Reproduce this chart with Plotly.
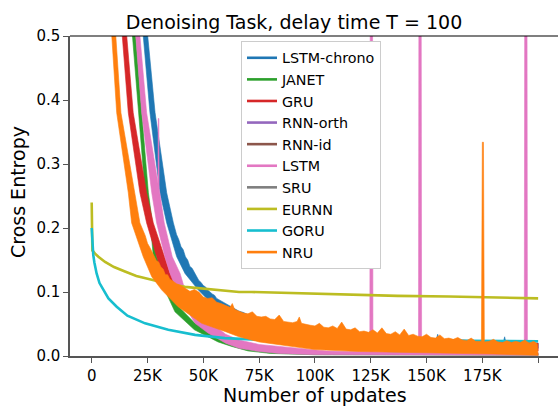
import plotly.graph_objects as go

# ---------------- data (x in thousands of updates) ----------------
series_names = ["LSTM-chrono", "JANET", "GRU", "RNN-orth", "RNN-id",
                "LSTM", "SRU", "EURNN", "GORU", "NRU"]
series_colors = ["#1f77b4", "#2ca02c", "#d62728", "#9467bd", "#8c564b",
                 "#e377c2", "#7f7f7f", "#bcbd22", "#17becf", "#ff7f0e"]

x_tick_vals = [0, 25, 50, 75, 100, 125, 150, 175, 200]
x_tick_text = ["0", "25K", "50K", "75K", "100K", "125K", "150K", "175K", "200K"]
y_tick_vals = [0.0, 0.1, 0.2, 0.3, 0.4, 0.5]
y_tick_text = ["0.0", "0.1", "0.2", "0.3", "0.4", "0.5"]

# LSTM-chrono (noisy band: upper/right edge and lower/left edge)
chrono_upper_x = [24.7, 25.1, 28.4, 33.6, 36.6, 38, 39, 40, 41, 42, 43, 44, 45, 46, 47, 48, 49, 50,
                  51, 52, 54, 55, 56, 58, 60, 61, 62.7, 64, 66, 68, 70, 71.7, 80, 90, 100, 120,
                  140, 154.5, 155, 155.5, 170, 184.5, 185, 185.5, 200]
chrono_upper_y = [0.52, 0.50, 0.38, 0.255, 0.208, 0.190, 0.182, 0.171, 0.166, 0.155, 0.150, 0.140,
                  0.137, 0.130, 0.124, 0.118, 0.115, 0.110, 0.108, 0.103, 0.097, 0.095, 0.090,
                  0.086, 0.083, 0.080, 0.077, 0.075, 0.070, 0.068, 0.064, 0.061, 0.055, 0.048,
                  0.042, 0.036, 0.031, 0.027, 0.034, 0.026, 0.024, 0.023, 0.030, 0.022, 0.020]
chrono_lower_x = [22.6, 23.1, 26.1, 30.6, 33.6, 38.1, 41.8, 47.8, 55.2, 62.7, 70, 80, 100, 150, 200]
chrono_lower_y = [0.52, 0.50, 0.38, 0.255, 0.208, 0.155, 0.129, 0.103, 0.077, 0.061, 0.045,
                  0.037, 0.028, 0.018, 0.012]

# JANET
janet_upper_x = [19.5, 19.7, 22.4, 25.4, 27.2, 29.1, 32.1, 35.1, 37.3, 46, 56.6, 62.7, 70, 80, 100, 150, 200]
janet_upper_y = [0.52, 0.50, 0.38, 0.255, 0.208, 0.155, 0.129, 0.103, 0.083, 0.052, 0.030,
                 0.022, 0.014, 0.009, 0.006, 0.005, 0.004]
janet_lower_x = [17.8, 18.2, 20.9, 23.9, 26.3, 27.6, 29.1, 32.8, 37.3, 46, 56.6, 62.7, 70, 80, 100, 200]
janet_lower_y = [0.52, 0.50, 0.38, 0.255, 0.208, 0.155, 0.129, 0.103, 0.069, 0.041, 0.022,
                 0.015, 0.008, 0.004, 0.002, 0.001]

# GRU
gru_upper_x = [15.4, 15.7, 18.6, 24.6, 27.6, 32.8, 35.1, 38, 42, 48, 60, 75, 100, 127, 150, 200]
gru_upper_y = [0.52, 0.50, 0.38, 0.255, 0.208, 0.155, 0.129, 0.108, 0.095, 0.080, 0.062,
               0.048, 0.039, 0.031, 0.027, 0.020]
gru_lower_x = [13.3, 13.7, 16.4, 21.6, 24.6, 29.1, 31.4, 36, 42, 50, 60, 75, 100, 150, 200]
gru_lower_y = [0.52, 0.50, 0.38, 0.255, 0.208, 0.155, 0.129, 0.100, 0.080, 0.060, 0.045,
               0.032, 0.022, 0.012, 0.008]

# LSTM
lstm_upper_x = [21.3, 21.6, 24.6, 29.7, 29.8, 30.1, 30.2, 32.5, 36.1, 39.6, 41.8, 46.3, 53.8,
                60, 66, 75, 84, 95, 105, 115, 124.6, 124.8, 125.8, 126.0, 135, 146.4, 146.6,
                147.6, 147.8, 160, 175, 193.8, 194.0, 195.0, 195.2, 200]
lstm_upper_y = [0.52, 0.50, 0.38, 0.27, 0.371, 0.371, 0.262, 0.208, 0.155, 0.129, 0.103, 0.077,
                0.051, 0.034, 0.025, 0.018, 0.015, 0.011, 0.008, 0.007, 0.007, 0.60, 0.60, 0.007,
                0.006, 0.006, 0.60, 0.60, 0.006, 0.006, 0.006, 0.006, 0.60, 0.60, 0.006, 0.005]
lstm_lower_x = [19.3, 19.7, 22.4, 26.9, 29.1, 32.8, 35.1, 38.1, 41.8, 46.3, 52.1, 60, 66, 75, 84, 100, 150, 200]
lstm_lower_y = [0.52, 0.50, 0.38, 0.255, 0.208, 0.155, 0.129, 0.103, 0.077, 0.051, 0.036,
                0.020, 0.012, 0.007, 0.004, 0.002, 0.001, 0.001]

# EURNN (thin line)
eurnn_x = [0, 0.3, 1.5, 3, 6, 10, 14.9, 20, 26.9, 34, 41.8, 50, 56.6, 66, 71.7, 90, 110, 137, 160, 180, 200]
eurnn_y = [0.240, 0.165, 0.160, 0.155, 0.147, 0.139, 0.132, 0.125, 0.119, 0.113, 0.108, 0.105,
           0.103, 0.100, 0.100, 0.098, 0.096, 0.094, 0.093, 0.092, 0.090]

# GORU (thin line)
goru_x = [0, 0.3, 0.7, 1.2, 2.2, 3.5, 5.2, 7.5, 11.2, 16, 23.9, 34.3, 46.3, 59.7, 71.7, 100, 150, 200]
goru_y = [0.200, 0.166, 0.158, 0.146, 0.129, 0.114, 0.103, 0.090, 0.077, 0.063, 0.051, 0.041,
          0.033, 0.028, 0.026, 0.025, 0.024, 0.023]

# NRU
nru_upper_x = [10.5, 10.8, 13.1, 19.1, 21.6, 24, 25, 26, 27, 28, 29, 30, 31, 32, 33, 34, 35,
               36, 38, 40, 42, 44, 46, 48, 50, 52, 54, 56, 58, 60, 62, 63, 64, 66, 68, 70, 72,
               74, 76, 78, 80, 82, 84, 86, 88, 90, 92, 93, 94, 96, 98, 100, 102, 104, 106, 108,
               110, 112, 114, 116, 118, 120, 122, 124, 126, 128, 130, 132, 134, 136, 138, 140,
               142, 144, 146, 148, 150, 152, 154, 156, 158, 160, 162, 164, 166, 168, 170, 172,
               174.6, 175.0, 175.5, 175.9, 178, 180, 182, 184, 186, 188, 190, 192, 194, 196,
               198, 199.6, 200]
nru_upper_y = [0.52, 0.50, 0.38, 0.255, 0.208, 0.188, 0.176, 0.170, 0.163, 0.158, 0.149, 0.147,
               0.139, 0.136, 0.127, 0.127, 0.120, 0.118, 0.113, 0.110, 0.106, 0.101, 0.104,
               0.100, 0.092, 0.090, 0.091, 0.084, 0.082, 0.079, 0.076, 0.082, 0.073, 0.070,
               0.067, 0.066, 0.069, 0.062, 0.061, 0.062, 0.058, 0.057, 0.064, 0.054, 0.053,
               0.052, 0.054, 0.061, 0.051, 0.049, 0.048, 0.047, 0.051, 0.045, 0.044, 0.047,
               0.043, 0.053, 0.042, 0.041, 0.044, 0.038, 0.039, 0.037, 0.041, 0.036, 0.044,
               0.035, 0.034, 0.038, 0.033, 0.042, 0.032, 0.034, 0.031, 0.030, 0.034, 0.029,
               0.028, 0.033, 0.027, 0.028, 0.026, 0.029, 0.025, 0.024, 0.028, 0.023, 0.023,
               0.334, 0.334, 0.022, 0.023, 0.026, 0.022, 0.021, 0.024, 0.021, 0.023, 0.021,
               0.025, 0.020, 0.023, 0.019, 0.006]
nru_lower_x = [8.6, 9.0, 11.2, 16.4, 17.9, 23.1, 26.9, 31.4, 38.7, 49.3, 60, 66, 75, 84, 100,
               120, 140, 160, 180, 200]
nru_lower_y = [0.52, 0.50, 0.38, 0.255, 0.208, 0.155, 0.124, 0.103, 0.077, 0.051, 0.038, 0.030,
               0.022, 0.017, 0.010, 0.007, 0.005, 0.004, 0.003, 0.001]

FONT = "DejaVu Sans"

fig = go.Figure()


def band(ux, uy, lx, ly, color):
    fig.add_trace(go.Scatter(
        x=list(ux) + list(lx)[::-1], y=list(uy) + list(ly)[::-1],
        mode="lines", fill="toself", fillcolor=color,
        line=dict(color=color, width=0.6), showlegend=False, hoverinfo="skip"))


def thin(x, y, color):
    fig.add_trace(go.Scatter(x=x, y=y, mode="lines", line=dict(color=color, width=2.6),
                             showlegend=False, hoverinfo="skip"))


col = dict(zip(series_names, series_colors))
band(chrono_upper_x, chrono_upper_y, chrono_lower_x, chrono_lower_y, col["LSTM-chrono"])
band(janet_upper_x, janet_upper_y, janet_lower_x, janet_lower_y, col["JANET"])
band(gru_upper_x, gru_upper_y, gru_lower_x, gru_lower_y, col["GRU"])
band(lstm_upper_x, lstm_upper_y, lstm_lower_x, lstm_lower_y, col["LSTM"])
thin(eurnn_x, eurnn_y, col["EURNN"])
thin(goru_x, goru_y, col["GORU"])
band(nru_upper_x, nru_upper_y, nru_lower_x, nru_lower_y, col["NRU"])

# legend keys
for name, c in zip(series_names, series_colors):
    fig.add_trace(go.Scatter(x=[None], y=[None], mode="lines", name=name,
                             line=dict(color=c, width=2.6)))

L, R, T, B = 70, 0, 36, 50
W, H = 558, 406
pw, ph = W - L - R, H - T - B

fig.update_layout(
    width=W, height=H,
    margin=dict(l=L, r=R, t=T, b=B, pad=0),
    paper_bgcolor="white", plot_bgcolor="white",
    font=dict(family=FONT, color="black", size=15),
    title=dict(text="Denoising Task, delay time T = 100", x=294 / W, xanchor="center",
               y=1 - 22 / H, yanchor="middle", font=dict(size=19, family=FONT, color="black")),
    showlegend=True,
    legend=dict(x=(241 - L) / pw, y=(356 - 41) / ph, xanchor="left", yanchor="top",
                bgcolor="white", bordercolor="#cccccc", borderwidth=1,
                font=dict(size=14.3, family=FONT, color="black"),
                itemwidth=30, tracegroupgap=0),
    xaxis=dict(range=[-9.72, 208.9], tickvals=x_tick_vals, ticktext=x_tick_text,
               showgrid=False, zeroline=False, showline=True, linecolor="#555555",
               linewidth=1.5, ticks="outside", ticklen=5, tickwidth=1.2, tickcolor="#555555",
               tickfont=dict(size=15, family=FONT, color="black")),
    yaxis=dict(range=[0, 0.5], tickvals=y_tick_vals, ticktext=y_tick_text,
               showgrid=False, zeroline=False, showline=True, linecolor="#555555",
               linewidth=1.5, ticks="outside", ticklen=5, tickwidth=1.2, tickcolor="#555555",
               tickfont=dict(size=15, family=FONT, color="black")),
    shapes=[dict(type="line", xref="paper", yref="paper", x0=0, x1=1, y0=1, y1=1,
                 line=dict(color="black", width=1.2))],
    annotations=[
        dict(text="Cross Entropy", xref="paper", yref="paper", x=(18 - L) / pw,
             y=(356 - 192) / ph, xanchor="center", yanchor="middle", textangle=-90,
             showarrow=False, font=dict(size=19, family=FONT, color="black")),
        dict(text="Number of updates", xref="paper", yref="paper", x=(315 - L) / pw,
             y=(356 - 395) / ph, xanchor="center", yanchor="middle",
             showarrow=False, font=dict(size=19, family=FONT, color="black")),
    ],
)

fig.write_html("out.html", config={"displayModeBar": False},
               post_script="document.body.style.margin='0';document.body.style.overflow='hidden';")
